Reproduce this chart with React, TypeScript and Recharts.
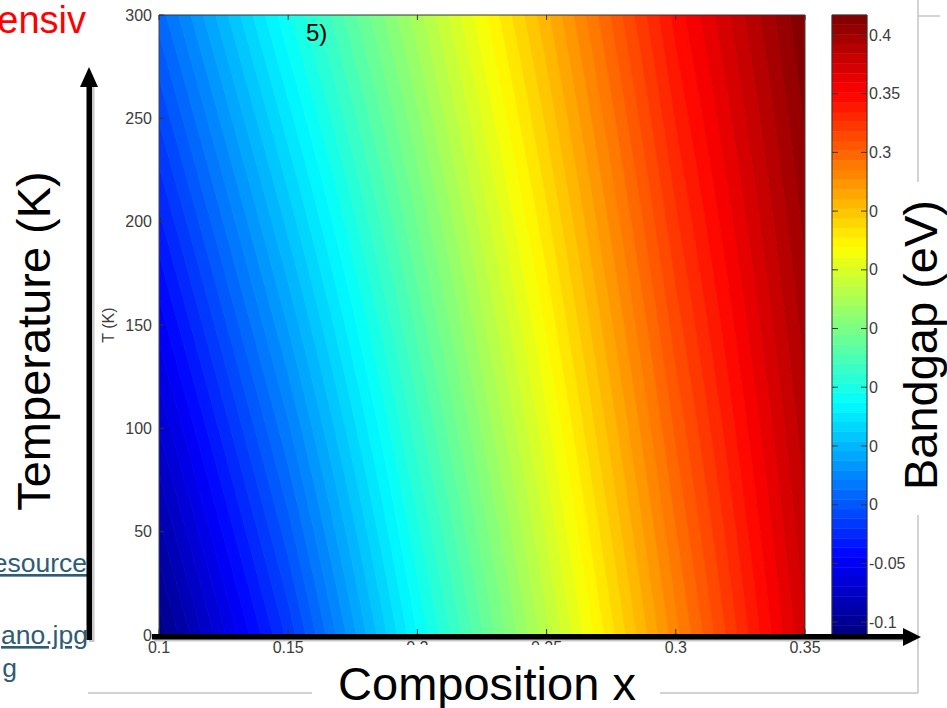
import React from 'react';
import { ComposedChart, Area, XAxis, YAxis, ReferenceArea } from 'recharts';

// ---- data ----
const compositions = [0.1, 0.15, 0.2, 0.25, 0.3, 0.35];
const bandgapAt0K = [-0.108, -0.018, 0.087, 0.183, 0.282, 0.375];
const bandgapAt300K = [0.008, 0.094, 0.174, 0.258, 0.346, 0.417];
const temperatureDomain = [0, 300];
const xTicks = [0.1, 0.15, 0.2, 0.25, 0.3, 0.35];
const xTickLabels = ['0.1', '0.15', '0.2', '0.25', '0.3', '0.35'];
const yTicks = [0, 50, 100, 150, 200, 250, 300];
const yTickLabels = ['0', '50', '100', '150', '200', '250', '300'];
const colorbarRange = [-0.111, 0.417];
const colorbarTicks = [-0.1, -0.05, 0, 0.05, 0.1, 0.15, 0.2, 0.25, 0.3, 0.35, 0.4];
const colorbarTickLabels = ['-0.1', '-0.05', '0', '0', '0', '0', '0', '0', '0.3', '0.35', '0.4'];
const levelCount = 64;

// ---- contour construction ----
const FONT = '"Liberation Sans", Arial, Helvetica, sans-serif';
const TICK_FILL = '#3c3c3c';
const TICK_SIZE = 16;

const jet = (t: number) => {
  const c = (v: number) => Math.round(255 * Math.max(0, Math.min(1, v)));
  return `rgb(${c(1.5 - Math.abs(4 * t - 3))},${c(1.5 - Math.abs(4 * t - 2))},${c(1.5 - Math.abs(4 * t - 1))})`;
};

const levels: number[] = [];
for (let k = 0; k <= levelCount; k++) {
  levels.push(colorbarRange[0] + (k * (colorbarRange[1] - colorbarRange[0])) / levelCount);
}
const bandColors = levels.slice(0, levelCount).map((_, k) => jet((k + 0.5) / levelCount));

const crossing = (vals: number[], L: number) => {
  if (L <= vals[0]) return compositions[0];
  for (let i = 0; i < vals.length - 1; i++) {
    if (L <= vals[i + 1]) {
      return compositions[i] + ((L - vals[i]) / (vals[i + 1] - vals[i])) * (compositions[i + 1] - compositions[i]);
    }
  }
  return compositions[compositions.length - 1];
};

const rows: any[] = [];
for (let T = temperatureDomain[0]; T <= temperatureDomain[1]; T += 5) {
  const f = (T - temperatureDomain[0]) / (temperatureDomain[1] - temperatureDomain[0]);
  const vals = compositions.map((_, i) => bandgapAt0K[i] + (bandgapAt300K[i] - bandgapAt0K[i]) * f);
  const row: any = { T };
  for (let k = 0; k < levelCount; k++) {
    row['b' + k] = [crossing(vals, levels[k]), crossing(vals, levels[k + 1])];
  }
  rows.push(row);
}

const labelFor = (ticks: number[], labels: string[], v: number) => {
  const i = ticks.findIndex((t) => Math.abs(t - v) < 1e-9);
  return i >= 0 ? labels[i] : String(v);
};

// ---- tick renderers (inward ticks, MATLAB style) ----
const BottomTick = (props: any) => {
  const { x, y, payload } = props;
  return (
    <g>
      <line x1={x} x2={x} y1={y - 7} y2={y - 13} stroke="#333" strokeWidth={1} />
      <text x={x} y={y} dy="0.71em" textAnchor="middle" fontSize={TICK_SIZE} fill={TICK_FILL} fontFamily={FONT}>
        {labelFor(xTicks, xTickLabels, payload.value)}
      </text>
    </g>
  );
};

const TopTick = (props: any) => {
  const { x, y } = props;
  return <line x1={x} x2={x} y1={y} y2={y + 5} stroke="#333" strokeWidth={1} />;
};

const LeftTick = (props: any) => {
  const { x, y, payload } = props;
  return (
    <g>
      <line x1={x + 7} x2={x + 12} y1={y} y2={y} stroke="#333" strokeWidth={1} />
      <text x={x} y={y} dy="0.355em" textAnchor="end" fontSize={TICK_SIZE} fill={TICK_FILL} fontFamily={FONT}>
        {labelFor(yTicks, yTickLabels, payload.value)}
      </text>
    </g>
  );
};

const ColorbarTick = (props: any) => {
  const { x, y, payload } = props;
  const right = x - 2;
  const left = right - 35;
  return (
    <g>
      <line x1={right} x2={right - 6} y1={y} y2={y} stroke="#333" strokeWidth={1} />
      <line x1={left} x2={left + 6} y1={y} y2={y} stroke="#333" strokeWidth={1} />
      <text x={x} y={y} dy="0.355em" textAnchor="start" fontSize={TICK_SIZE} fill={TICK_FILL} fontFamily={FONT}>
        {labelFor(colorbarTicks, colorbarTickLabels, payload.value)}
      </text>
    </g>
  );
};

const abs: React.CSSProperties = { position: 'absolute', left: 0, top: 0 };

export default function App() {
  return (
    <div style={{ position: 'absolute', left: 0, top: 0, width: 947, height: 708, background: '#fff', overflow: 'hidden' }}>
      <div style={abs}>
        <ComposedChart
          layout="vertical"
          width={947}
          height={708}
          data={rows}
          margin={{ top: 5, right: 141, bottom: 43, left: 119 }}
        >
          <XAxis
            xAxisId={0}
            type="number"
            domain={[compositions[0], compositions[compositions.length - 1]]}
            allowDataOverflow
            ticks={xTicks}
            tickSize={0}
            tickMargin={7}
            height={30}
            tick={<BottomTick />}
            axisLine={{ stroke: '#333' }}
          />
          <XAxis
            xAxisId="top"
            orientation="top"
            type="number"
            domain={[compositions[0], compositions[compositions.length - 1]]}
            allowDataOverflow
            ticks={xTicks}
            tickSize={0}
            tickMargin={0}
            height={10}
            tick={<TopTick />}
            axisLine={{ stroke: '#333' }}
          />
          <YAxis
            yAxisId={0}
            type="number"
            dataKey="T"
            domain={temperatureDomain}
            allowDataOverflow
            reversed
            ticks={yTicks}
            tickSize={0}
            tickMargin={7}
            width={40}
            tick={<LeftTick />}
            axisLine={{ stroke: '#444' }}
          />
          <YAxis
            yAxisId="right"
            orientation="right"
            type="number"
            domain={temperatureDomain}
            allowDataOverflow
            reversed
            tick={false}
            tickLine={false}
            width={1}
            axisLine={{ stroke: '#444' }}
          />
          {bandColors.map((c, k) => (
            <Area
              key={k}
              xAxisId={0}
              yAxisId={0}
              dataKey={'b' + k}
              type="linear"
              fill={c}
              fillOpacity={1}
              stroke={c}
              strokeWidth={0.8}
              dot={false}
              activeDot={false}
              isAnimationActive={false}
            />
          ))}
        </ComposedChart>
      </div>

      <div style={abs}>
        <ComposedChart width={947} height={708} data={[{ v: 0 }]} margin={{ top: 15, right: 40, bottom: 73, left: 832 }}>
          <XAxis type="number" domain={[0, 1]} hide />
          <YAxis
            orientation="right"
            type="number"
            domain={colorbarRange}
            allowDataOverflow
            ticks={colorbarTicks}
            tickSize={0}
            tickMargin={2}
            width={40}
            tick={<ColorbarTick />}
            axisLine={false}
          />
          {bandColors.map((c, k) => (
            <ReferenceArea key={k} y1={levels[k]} y2={levels[k + 1]} fill={c} fillOpacity={1} stroke={c} strokeWidth={0.5} />
          ))}
          <ReferenceArea y1={colorbarRange[0]} y2={colorbarRange[1]} fill="none" stroke="#333" strokeWidth={1} />
        </ComposedChart>
      </div>

      <svg style={{ ...abs, pointerEvents: 'none' }} width={947} height={708}>
        {/* slide frame lines */}
        <g stroke="#c4c4c4" strokeWidth={1.5} fill="none">
          <line x1={88} y1={693} x2={312} y2={693} />
          <line x1={660} y1={693} x2={918} y2={693} />
          <line x1={918} y1={0} x2={918} y2={182} />
          <line x1={918} y1={16} x2={940} y2={16} />
          <line x1={918} y1={515} x2={918} y2={693} />
        </g>
        {/* slide text */}
        <text x={86} y={33} textAnchor="end" fontSize={38} fill="#ff0000" fontFamily={FONT}>ensiv</text>
        <g fill="#2e5c74" fontSize={26.5} fontFamily={FONT} textDecoration="underline">
          <text x={87} y={572} textAnchor="end">esource</text>
          <text x={88} y={644} textAnchor="end">ano.jpg</text>
          <text x={17} y={677} textAnchor="end">g</text>
        </g>
        {/* axis title of the figure */}
        <text x={113.5} y={325} transform="rotate(-90 113.5 325)" textAnchor="middle" fontSize={16} fill={TICK_FILL} fontFamily={FONT}>T (K)</text>
        <text x={306} y={41} fontSize={24} fill="#000" fontFamily={FONT}>5)</text>
        {/* arrows with faint shadow */}
        <g fill="rgba(0,0,0,0.22)">
          <rect x={89} y={84} width={5.5} height={558} />
          <rect x={154} y={636} width={752} height={5.5} />
        </g>
        <g fill="#000">
          <rect x={86.5} y={82} width={5.5} height={558} />
          <polygon points="89,67 80,87 98,87" />
          <rect x={152} y={634} width={754} height={5.5} />
          <polygon points="921,637 903,628 903,646" />
        </g>
        {/* cover for composition label */}
        <rect x={320} y={645} width={336} height={63} fill="#fff" />
        <text x={487} y={700} textAnchor="middle" fontSize={47} fill="#000" fontFamily={FONT}>Composition x</text>
        <text x={50} y={341} transform="rotate(-90 50 341)" textAnchor="middle" fontSize={47} fill="#000" fontFamily={FONT}>Temperature (K)</text>
        <text x={937} y={345} transform="rotate(-90 937 345)" textAnchor="middle" fontSize={47} fill="#000" fontFamily={FONT}>Bandgap (eV)</text>
      </svg>
    </div>
  );
}
